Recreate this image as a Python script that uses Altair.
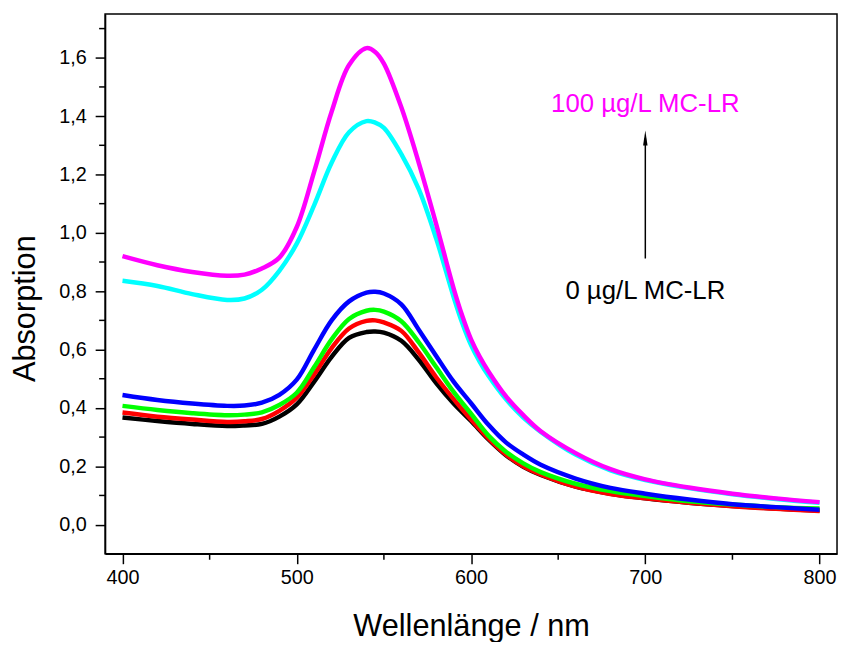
import altair as alt
import pandas as pd

wavelength = [400, 420, 440, 460, 470, 480, 490, 500, 510, 520, 530, 540, 545, 550, 560,
              570, 580, 590, 600, 610, 620, 630, 640, 660, 680, 700, 725, 750, 775, 800]
# the two high curves were read more densely around their steep fall
wavelength_hi = [400, 420, 440, 460, 470, 480, 490, 500, 510, 520, 530, 540, 545, 550, 560,
                 570, 580, 590, 595, 600, 605, 610, 620, 630, 640, 660, 680, 700, 725, 750, 775, 800]

# Absorption values per sample (black -> magenta, increasing MC-LR)
s_black = [0.367, 0.355, 0.345, 0.338, 0.340, 0.345, 0.370, 0.412, 0.490, 0.575, 0.640, 0.660, 0.662, 0.658, 0.630,
           0.565, 0.485, 0.415, 0.355, 0.292, 0.238, 0.198, 0.170, 0.130, 0.106, 0.090, 0.075, 0.064, 0.055, 0.048]
s_red = [0.384, 0.370, 0.360, 0.352, 0.354, 0.362, 0.390, 0.435, 0.515, 0.605, 0.672, 0.698, 0.700, 0.693, 0.664,
         0.590, 0.505, 0.430, 0.360, 0.295, 0.240, 0.200, 0.172, 0.130, 0.105, 0.090, 0.075, 0.063, 0.054, 0.047]
s_green = [0.407, 0.393, 0.382, 0.375, 0.377, 0.385, 0.410, 0.452, 0.540, 0.635, 0.705, 0.733, 0.736, 0.730, 0.697,
           0.625, 0.540, 0.455, 0.380, 0.305, 0.250, 0.210, 0.180, 0.140, 0.115, 0.098, 0.080, 0.069, 0.060, 0.055]
s_blue = [0.444, 0.427, 0.415, 0.407, 0.408, 0.418, 0.445, 0.497, 0.600, 0.700, 0.765, 0.795, 0.798, 0.792, 0.755,
          0.668, 0.578, 0.490, 0.416, 0.342, 0.282, 0.240, 0.205, 0.158, 0.126, 0.106, 0.086, 0.070, 0.060, 0.051]
s_cyan = [0.836, 0.818, 0.790, 0.770, 0.775, 0.805, 0.870, 0.963, 1.095, 1.240, 1.345, 1.383, 1.378, 1.360, 1.270,
          1.150, 0.980, 0.780, 0.690, 0.615, 0.558, 0.510, 0.430, 0.367, 0.318, 0.240, 0.186, 0.153, 0.125, 0.104,
          0.088, 0.075]
s_magenta = [0.920, 0.889, 0.866, 0.853, 0.857, 0.878, 0.915, 1.020, 1.210, 1.415, 1.575, 1.633, 1.620, 1.580, 1.430,
             1.240, 1.030, 0.810, 0.715, 0.635, 0.575, 0.525, 0.440, 0.375, 0.320, 0.245, 0.190, 0.155, 0.127, 0.106,
             0.090, 0.077]

series = [("Probe 1", wavelength, s_black, "#000000"), ("Probe 2", wavelength, s_red, "#ff0000"),
          ("Probe 3", wavelength, s_green, "#00ff00"), ("Probe 4", wavelength, s_blue, "#0000ff"),
          ("Probe 5", wavelength_hi, s_cyan, "#00ffff"), ("Probe 6", wavelength_hi, s_magenta, "#ff00ff")]

x_major = [400, 500, 600, 700, 800]
x_minor = [450, 550, 650, 750]
y_major = [0.0, 0.2, 0.4, 0.6, 0.8, 1.0, 1.2, 1.4, 1.6]
y_minor = [0.1, 0.3, 0.5, 0.7, 0.9, 1.1, 1.3, 1.5, 1.7]

label_hi = "100 µg/L MC-LR"
label_lo = "0 µg/L MC-LR"
annot_x = 700
annot_hi_y = 1.415
annot_lo_y = 0.772
arrow_from = 0.912
arrow_to = 1.325

W, H = 739, 545
FONT = "Liberation Sans"

xscale = alt.Scale(domain=[390, 810], nice=False, zero=False)
yscale = alt.Scale(domain=[-0.1, 1.75], nice=False, zero=False)

xaxis = alt.Axis(values=x_major, format="d", title="Wellenlänge / nm", grid=False,
                 tickSize=10, tickWidth=1.5, domainWidth=1.5, domainColor="black",
                 tickColor="black", labelFontSize=20, labelFont=FONT, labelColor="black",
                 labelPadding=4, titleFontSize=31, titleFont=FONT, titleFontWeight="normal",
                 titleColor="black", titleBaseline="alphabetic", titleY=82, labelFlush=False)
yaxis = alt.Axis(values=y_major, title="Absorption", grid=False,
                 labelExpr="replace(format(datum.value, '.1f'), '.', ',')",
                 tickSize=10, tickWidth=1.5, domainWidth=1.5, domainColor="black",
                 tickColor="black", labelFontSize=20, labelFont=FONT, labelColor="black",
                 labelPadding=9, titleFontSize=31, titleFont=FONT, titleFontWeight="normal",
                 titleColor="black", titleBaseline="alphabetic", titleX=-71, titleY=297,
                 titleAngle=-90, titleAlign="center", labelFlush=False)


def X(field):
    return alt.X(field, scale=xscale, axis=xaxis)


def Y(field):
    return alt.Y(field, scale=yscale, axis=yaxis)


layers = []
for name, wl, vals, col in series:
    df = pd.DataFrame({"wl": wl, "A": vals, "s": name})
    layers.append(alt.Chart(df).mark_line(color=col, strokeWidth=4.5, interpolate="catmull-rom")
                  .encode(x=X("wl:Q"), y=Y("A:Q")))

# minor ticks
minx = alt.Chart(pd.DataFrame({"v": x_minor})).mark_rule(color="black", strokeWidth=1.5).encode(
    x=X("v:Q"), y=alt.value(H), y2=alt.value(H + 6))
miny = alt.Chart(pd.DataFrame({"v": y_minor})).mark_rule(color="black", strokeWidth=1.5).encode(
    y=Y("v:Q"), x=alt.value(-6), x2=alt.value(0))

# annotations
ann = pd.DataFrame({"x": [annot_x, annot_x], "y": [annot_hi_y, annot_lo_y],
                    "t": [label_hi, label_lo], "c": ["#ff00ff", "#000000"]})
texts = alt.Chart(ann).mark_text(fontSize=26, font=FONT, baseline="alphabetic", align="center").encode(
    x=X("x:Q"), y=Y("y:Q"), text="t:N", color=alt.Color("c:N", scale=None))

arr = pd.DataFrame({"x": [annot_x], "y": [arrow_from], "y2": [arrow_to]})
arrow_line = alt.Chart(arr).mark_rule(color="black", strokeWidth=1.5).encode(
    x=X("x:Q"), y=Y("y:Q"), y2="y2:Q")
arrow_head = alt.Chart(arr).mark_point(shape="M0,-1L-0.3,1L0.3,1Z", size=225, filled=True,
                                       color="black", opacity=1).encode(
    x=X("x:Q"), y=Y("y2:Q"))

chart = alt.layer(*layers, minx, miny, texts, arrow_line, arrow_head).properties(
    width=W, height=H,
    autosize=alt.AutoSizeParams(type="none"),
    padding={"left": 98, "top": 3, "right": 2, "bottom": 86},
).configure(
    background="white",
    view=alt.ViewConfig(stroke="black", strokeWidth=1.5),
)

chart.save("out.html", embed_options={"renderer": "svg", "actions": False})
